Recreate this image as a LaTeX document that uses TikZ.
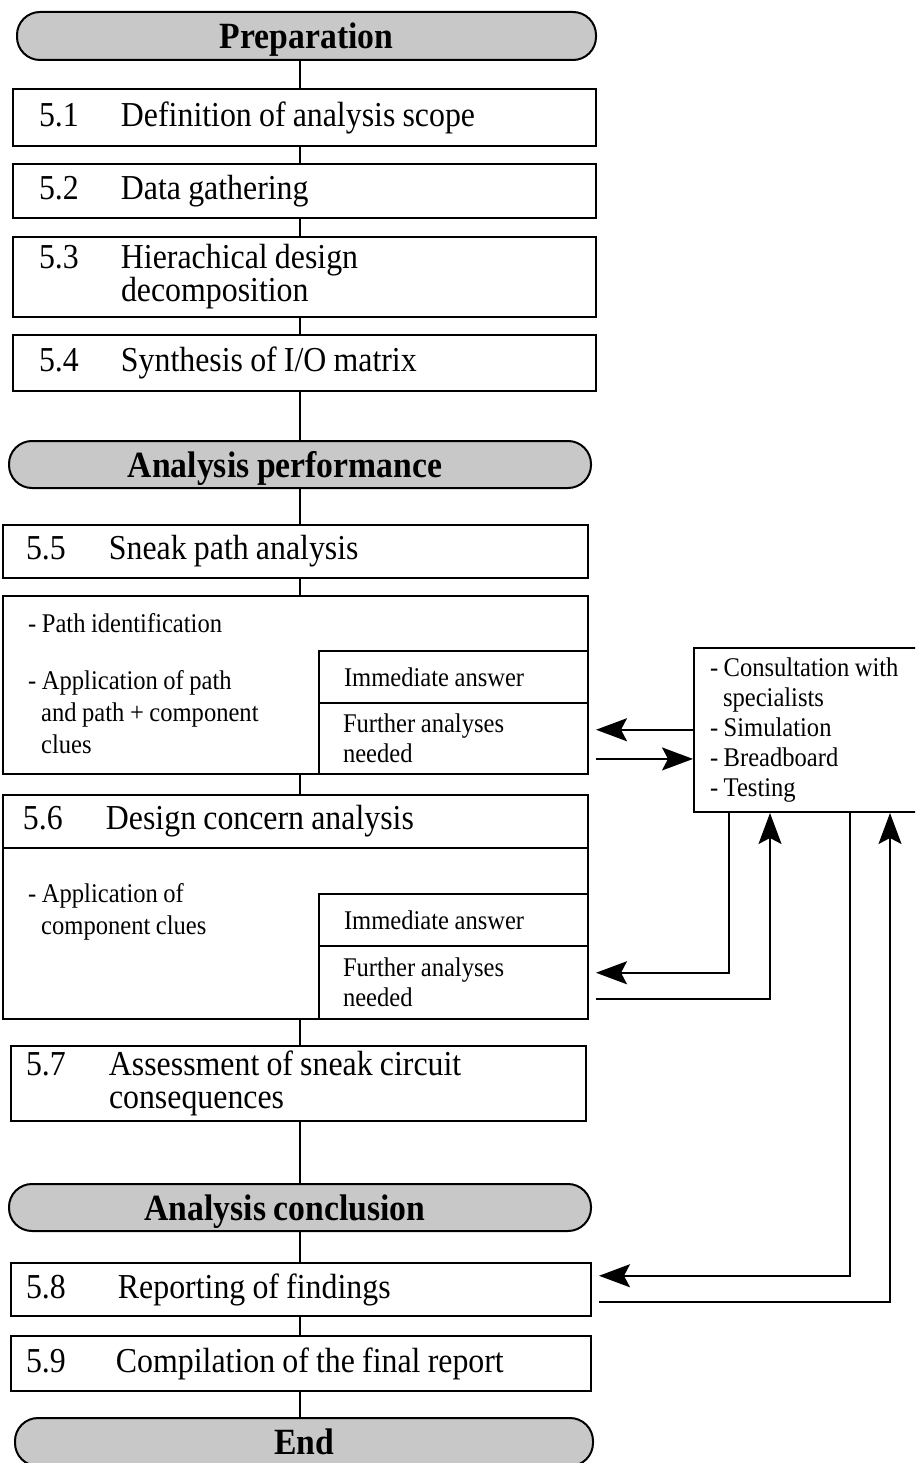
\documentclass[tikz,border=0pt]{standalone}
\usepackage{fontspec}
\setmainfont{Liberation Serif}[FakeStretch=0.91,WordSpace=0.9]
\usetikzlibrary{arrows.meta,calc}
\definecolor{phasegray}{RGB}{200,200,200}
\newcommand{\stepno}[2][82pt]{\makebox[#1][l]{#2}}

\begin{document}
\begin{tikzpicture}[x=1pt,y=1pt,yscale=-1,
  phase/.style={draw,line width=2pt,fill=phasegray,rounded corners=23pt,anchor=north west,inner sep=0pt,text height=25pt,text depth=0pt,font=\fontsize{37}{40}\selectfont\bfseries},
  stepbox/.style={draw,line width=2pt,anchor=north west,inner ysep=0pt,align=flush left,font=\fontsize{35}{33}\selectfont},
  panel/.style={draw,line width=2pt,anchor=north west,inner sep=0pt},
  cell/.style={draw,line width=2pt,anchor=north west,inner xsep=25pt,inner ysep=0pt,text width=219pt,align=flush left,font=\fontsize{27}{30}\selectfont},
  note/.style={anchor=north west,inner sep=0pt,align=left,font=\fontsize{27}{32}\selectfont},
  link/.style={line width=1.8pt},
  flow/.style={line width=1.8pt,-{Stealth[length=31pt,width=23pt,inset=6pt]}}]
\useasboundingbox (0,0) rectangle (915,1463);
\clip (0,0) rectangle (915,1463);

%Phases
\node[phase,minimum width=579pt,minimum height=48pt] (prep) at (16,11) {Preparation};
\node[phase,minimum width=582pt,minimum height=47pt] (perf) at (8,440) {Analysis performance\hspace*{30pt}};
\node[phase,minimum width=582pt,minimum height=47pt] (concl) at (8,1183) {Analysis conclusion\hspace*{30pt}};
\node[phase,minimum width=578pt,minimum height=48pt] (end) at (14,1417) {End};

%Steps 5.1 - 5.4
\node[stepbox,inner xsep=26pt,text width=531pt,minimum height=57pt] (s51) at (12,88) {\stepno{5.1}Definition of analysis scope};
\node[stepbox,inner xsep=26pt,text width=531pt,minimum height=54pt] (s52) at (12,163) {\stepno{5.2}Data gathering};
\node[stepbox,inner xsep=26pt,text width=531pt,minimum height=80pt] (s53) at (12,236) {\stepno{5.3}Hierachical design\\\hspace*{82pt}decomposition};
\node[stepbox,inner xsep=26pt,text width=531pt,minimum height=56pt] (s54) at (12,334) {\stepno{5.4}Synthesis of I/O matrix};

%Step 5.5
\node[stepbox,inner xsep=23pt,text width=539pt,minimum height=53pt] (s55) at (2,524) {\stepno[83pt]{5.5}Sneak path analysis};
\node[panel,minimum width=585pt,minimum height=178pt] (body55) at (2,595) {};
\node[note,anchor=base west] (path55) at (28,632) {- Path identification};
\node[note] (clue55) at (28,670) {- Application of path\\\hspace*{13pt}and path + component\\\hspace*{13pt}clues};
\node[cell,minimum height=52pt] (ans55) at (318,650) {Immediate answer};
\node[cell,inner xsep=24pt,text width=221pt,minimum height=71pt] (fur55) at (318,702) {Further analyses\\needed};

%Step 5.6
\node[stepbox,inner xsep=20pt,text width=545pt,minimum height=53pt] (s56) at (2,794) {\stepno[83pt]{5.6}Design concern analysis};
\node[panel,minimum width=585pt,minimum height=171pt] (body56) at (2,847) {};
\node[note] (clue56) at (28,883) {- Application of\\\hspace*{13pt}component clues};
\node[cell,minimum height=52pt] (ans56) at (318,893) {Immediate answer};
\node[cell,inner xsep=24pt,text width=221pt,minimum height=73pt] (fur56) at (318,945) {Further analyses\\needed};

%Steps 5.7 - 5.9
\node[stepbox,inner xsep=15pt,text width=545pt,minimum height=75pt] (s57) at (10,1045) {\stepno[83pt]{5.7}Assessment of sneak circuit\\\hspace*{83pt}consequences};
\node[stepbox,inner xsep=15pt,text width=550pt,minimum height=53pt] (s58) at (10,1262) {\stepno[92pt]{5.8}Reporting of findings};
\node[stepbox,inner xsep=15pt,text width=550pt,minimum height=55pt] (s59) at (10,1335) {\stepno[90pt]{5.9}Compilation of the final report};

%Further analyses
\node[panel,inner xsep=16pt,text width=208pt,minimum height=164pt,align=flush left,font=\fontsize{27}{30}\selectfont] (rb) at (693,647) {- Consultation with\\\hspace*{13pt}specialists\\- Simulation\\- Breadboard\\- Testing};

%Main line
\coordinate (spine) at (300,0);
\foreach \a/\b in {prep/s51,s51/s52,s52/s53,s53/s54,s54/perf,perf/s55,s55/body55,body55/s56,body56/s57,s57/concl,concl/s58,s58/s59,s59/end}
  \draw[link] (spine |- \a.south) -- (spine |- \b.north);

%Arrows to and from the further analyses
\coordinate (in55) at ($(fur55.north east)!0.38!(fur55.south east)+(7,0)$);
\coordinate (out55) at ($(fur55.north east)!0.78!(fur55.south east)+(7,0)$);
\coordinate (in56) at ($(fur56.north east)!0.37!(fur56.south east)+(7,0)$);
\coordinate (out56) at ($(fur56.north east)!0.72!(fur56.south east)+(7,0)$);
\coordinate (in58) at ($(s58.north east)!0.25!(s58.south east)+(7,0)$);
\coordinate (out58) at ($(s58.north east)!0.72!(s58.south east)+(7,0)$);
\draw[flow] (rb.west |- in55) -- (in55);
\draw[flow] (out55) -- (rb.west |- out55);
\draw[flow] ($(rb.south west)+(36,0)$) |- (in56);
\draw[flow] (out56) -| ($(rb.south west)+(77,0)$);
\draw[flow] ($(rb.south west)+(157,0)$) |- (in58);
\draw[flow] (out58) -| ($(rb.south west)+(197,0)$);

\end{tikzpicture}
\end{document}
